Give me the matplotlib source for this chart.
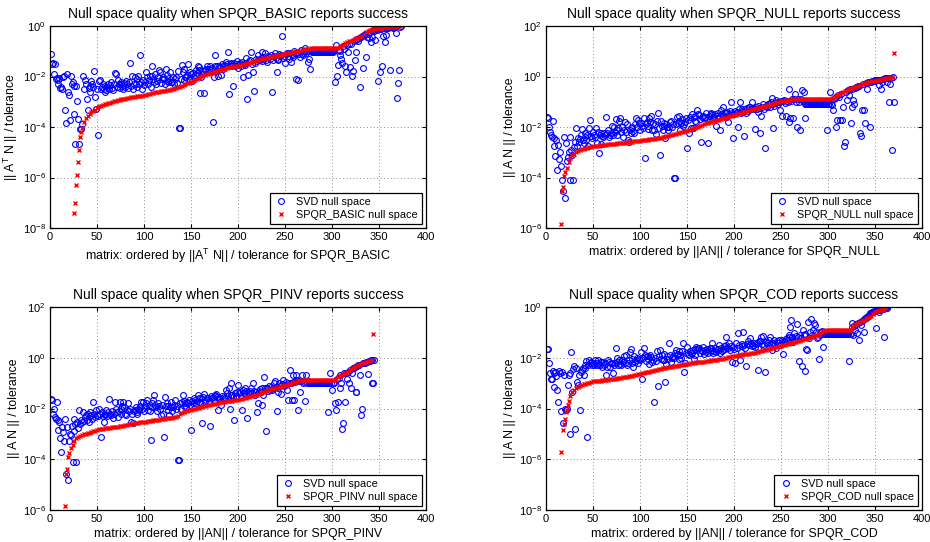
import numpy as np
import matplotlib
matplotlib.use('Agg')
import matplotlib.pyplot as plt

plt.rcParams['font.family'] = 'Liberation Sans'
plt.rcParams['mathtext.fontset'] = 'custom'
plt.rcParams['mathtext.rm'] = 'Liberation Sans'
plt.rcParams['mathtext.it'] = 'Liberation Sans:italic'
plt.rcParams['axes.unicode_minus'] = False

# all values are log10( ||A N|| / tolerance ), one SVD value per matrix (index 1..N)
# SPQR values: a few single points + a dense run sampled every 2nd matrix

# ---- SPQR_BASIC ----
basic_svd = [
    -1.1, -1.5, -1.45, -1.9, -1.5, -2.1, -2.07, -2.15, -2.3, -2.05,
    -2.45, -2.4, -2.5, -2.0, -1.96, -3.34, -3.84, -1.9, -2.62, -2.75,
    -3.74, -1.97, -2.29, -2.22, -2.36, -3.5, -4.66, -2.36, -2.95, -3.67,
    -4.66, -4.07, -4.07, -3.87, -1.96, -2.5, -2.15, -2.29, -2.89, -3.34,
    -2.45, -2.36, -2.6, -2.16, -2.29, -2.4, -1.8, -2.82, -3.28, -2.5,
    -4.33, -2.16, -2.13, -2.49, -2.4, -2.3, -2.49, -2.36, -2.6, -2.55,
    -2.42, -2.29, -2.5, -2.35, -2.22, -2.45, -2.55, -2.3, -1.86, -1.92,
    -2.4, -2.13, -2.3, -2.45, -2.29, -2.2, -2.36, -2.5, -2.25, -2.4,
    -2.16, -2.3, -2.45, -2.2, -1.46, -2.36, -1.96, -2.5, -2.3, -2.03,
    -2.29, -2.1, -2.4, -1.96, -2.3, -1.14, -2.2, -2.49, -2.13, -2.35,
    -2.2, -1.83, -2.0, -2.3, -2.15, -1.96, -2.4, -1.6, -1.96, -2.1,
    -2.2, -1.9, -2.3, -2.16, -2.0, -1.76, -1.83, -2.25, -2.1, -2.03,
    -2.1, -2.3, -1.7, -1.93, -2.2, -2.16, -2.05, -1.83, -2.2, -2.22,
    -2.0, -2.3, -2.1, -2.03, -2.25, -1.8, -4.04, -4.04, -2.1, -1.54,
    -1.83, -2.15, -1.7, -2.0, -2.03, -1.95, -1.5, -2.1, -1.83, -1.9,
    -2.16, -1.86, -2.0, -1.95, -1.76, -1.85, -1.6, -1.75, -1.63, -2.64,
    -2.0, -1.9, -1.8, -2.64, -1.75, -1.7, -1.57, -1.83, -1.7, -1.57,
    -1.75, -1.65, -3.8, -2.03, -1.6, -1.16, -1.8, -1.6, -1.96, -1.6,
    -1.64, -1.93, -1.5, -1.7, -1.55, -1.6, -1.43, -1.5, -1.04, -2.68,
    -1.5, -1.6, -1.45, -1.55, -2.37, -1.47, -1.6, -1.52, -1.4, -1.67,
    -1.5, -1.45, -1.6, -1.41, -2.0, -1.5, -1.54, -1.45, -1.28, -2.88,
    -1.93, -1.4, -1.35, -1.01, -1.5, -1.84, -2.57, -1.45, -1.3, -1.4,
    -1.14, -1.35, -1.34, -1.25, -1.01, -1.4, -1.24, -1.3, -1.08, -1.35,
    -1.41, -1.2, -1.24, -1.3, -1.15, -2.63, -1.34, -1.2, -1.08, -1.25,
    -1.83, -1.3, -1.34, -1.1, -1.2, -1.15, -0.38, -1.28, -1.2, -1.47,
    -1.1, -1.08, -1.2, -1.32, -1.05, -1.41, -1.1, -1.21, -1.15, -1.0,
    -1.08, -2.1, -1.05, -2.13, -1.12, -1.21, -0.95, -1.1, -1.14, -1.0,
    -0.88, -1.05, -0.98, -1.41, -1.32, -1.0, -1.71, -1.0, -1.01, -1.01,
    -1.01, -1.01, -1.01, -1.01, -1.01, -1.01, -1.01, -1.01, -1.01, -1.01,
    -1.01, -1.01, -1.01, -1.01, -1.01, -1.01, -1.01, -1.01, -1.01, -1.01,
    -1.01, -1.0, -2.2, -0.75, -1.97, -1.54, -0.95, -1.0, -1.14, -1.32,
    -1.47, -0.8, -0.9, -1.58, -1.84, -0.75, -1.01, -0.7, -1.63, -0.7,
    -1.97, -1.8, -0.6, -1.34, -1.01, -0.55, -0.5, -0.6, -0.48, -2.42,
    -0.45, -0.4, -1.67, -0.35, -0.3, -1.21, -0.42, -0.3, -0.49, -0.22,
    -0.62, -0.2, -0.45, -0.15, -0.2, -0.55, -0.12, -0.15, -2.17, -0.1,
    -1.84, -0.1, -1.57, -0.39, -0.08, -0.62, -0.36, -0.07, -0.06, -0.06,
    -0.05, -1.74, -0.05, -0.04, -0.09, -0.04, -0.03, -0.29, -2.86, -2.24,
    -1.74, -0.03, -0.01,
]
basic_extra_x = [27, 29, 31, 33]
basic_extra = [-7.0, -5.9, -4.9, -4.2]
basic_start = 26
basic_spqr = [
    -7.4, -6.3, -5.4, -4.4, -4.05, -3.8, -3.65, -3.55, -3.5, -3.42,
    -3.38, -3.32, -3.25, -3.18, -3.15, -3.12, -3.1, -3.08, -3.05, -3.03,
    -3.0, -2.98, -2.95, -2.94, -2.92, -2.91, -2.9, -2.88, -2.87, -2.85,
    -2.83, -2.82, -2.81, -2.79, -2.78, -2.77, -2.76, -2.74, -2.72, -2.7,
    -2.68, -2.66, -2.65, -2.63, -2.61, -2.6, -2.59, -2.57, -2.56, -2.55,
    -2.54, -2.52, -2.5, -2.48, -2.45, -2.42, -2.4, -2.37, -2.34, -2.3,
    -2.27, -2.24, -2.21, -2.17, -2.13, -2.09, -2.05, -2.01, -1.98, -1.95,
    -1.92, -1.9, -1.88, -1.86, -1.83, -1.8, -1.78, -1.76, -1.73, -1.71,
    -1.69, -1.66, -1.64, -1.62, -1.61, -1.6, -1.58, -1.57, -1.55, -1.53,
    -1.51, -1.49, -1.47, -1.45, -1.43, -1.41, -1.39, -1.36, -1.34, -1.31,
    -1.29, -1.28, -1.26, -1.25, -1.23, -1.22, -1.2, -1.18, -1.17, -1.15,
    -1.13, -1.12, -1.1, -1.08, -1.07, -1.05, -1.04, -1.02, -1.0, -0.99,
    -0.97, -0.95, -0.93, -0.92, -0.91, -0.9, -0.89, -0.89, -0.89, -0.89,
    -0.88, -0.88, -0.88, -0.88, -0.88, -0.88, -0.88, -0.88, -0.88, -0.88,
    -0.87, -0.84, -0.8, -0.74, -0.68, -0.64, -0.61, -0.58, -0.55, -0.52,
    -0.49, -0.46, -0.43, -0.38, -0.31, -0.24, -0.2, -0.17, -0.14, -0.12,
    -0.1, -0.09, -0.08, -0.07, -0.06, -0.05, -0.05, -0.04, -0.04, -0.03,
    -0.03, -0.02, -0.01, 0.0,
]

# ---- SPQR_NULL ----
null_svd = [
    -1.62, -1.65, -2.0, -2.18, -2.3, -2.4, -1.75, -2.45, -2.77, -3.14,
    -2.5, -3.69, -2.71, -3.27, -2.97, -3.56, -4.08, -4.54, -2.38, -4.8,
    -2.64, -3.36, -3.17, -2.97, -4.08, -2.38, -2.9, -3.1, -4.08, -2.8,
    -2.58, -2.05, -2.77, -2.45, -2.6, -2.48, -2.3, -2.09, -2.5, -2.64,
    -2.25, -2.4, -2.51, -2.3, -2.75, -2.05, -1.72, -2.35, -2.45, -2.18,
    -2.3, -2.38, -2.05, -2.64, -2.2, -3.04, -2.31, -2.67, -2.22, -2.35,
    -2.41, -2.25, -2.3, -1.62, -2.25, -2.1, -2.38, -2.3, -2.22, -1.96,
    -2.3, -1.99, -2.2, -1.7, -2.31, -2.1, -2.05, -1.75, -1.66, -2.2,
    -2.0, -2.38, -2.1, -1.8, -2.2, -1.88, -2.51, -2.58, -2.1, -2.25,
    -2.0, -2.05, -2.15, -2.22, -1.9, -1.66, -2.0, -1.72, -1.85, -2.1,
    -1.85, -1.95, -2.05, -1.66, -3.23, -1.9, -1.82, -2.08, -1.95, -1.66,
    -1.8, -1.57, -2.1, -1.85, -2.12, -1.9, -2.27, -1.75, -1.46, -2.05,
    -3.1, -1.75, -1.95, -2.1, -1.85, -1.95, -2.45, -1.9, -2.0, -2.12,
    -1.99, -1.8, -1.75, -2.0, -1.9, -4.02, -4.02, -1.9, -1.62, -1.85,
    -1.56, -1.75, -2.1, -1.85, -1.7, -1.95, -1.9, -1.8, -1.65, -2.84,
    -1.72, -2.25, -1.62, -2.05, -1.48, -2.05, -1.62, -1.75, -1.55, -1.79,
    -1.33, -1.5, -1.53, -1.7, -2.58, -1.6, -1.55, -1.66, -1.6, -1.46,
    -1.7, -2.64, -1.55, -1.73, -1.5, -1.45, -1.52, -1.6, -1.66, -1.5,
    -1.96, -1.55, -1.45, -1.6, -2.12, -1.33, -1.5, -1.2, -1.55, -1.45,
    -1.6, -1.46, -1.4, -1.79, -1.5, -1.35, -1.0, -1.45, -2.44, -1.5,
    -1.35, -1.46, -1.4, -1.99, -1.3, -1.0, -1.45, -1.27, -1.35, -1.4,
    -2.35, -1.3, -1.46, -1.25, -1.35, -1.2, -1.2, -1.3, -1.0, -1.25,
    -1.3, -2.09, -1.2, -1.3, -1.4, -1.15, -1.25, -2.25, -1.55, -1.2,
    -1.1, -1.27, -2.84, -1.15, -1.2, -1.07, -1.1, -1.2, -1.0, -0.84,
    -1.1, -2.05, -1.15, -1.05, -0.94, -1.0, -1.1, -1.0, -1.33, -0.95,
    -1.57, -0.98, -0.94, -1.05, -1.57, -0.95, -1.0, -1.79, -0.48, -1.66,
    -0.95, -0.9, -1.66, -0.9, -0.68, -1.0, -1.99, -0.88, -1.0, -2.12,
    -0.9, -0.52, -0.95, -0.61, -1.66, -1.07, -1.07, -1.07, -1.07, -1.07,
    -1.07, -1.07, -1.07, -1.07, -1.07, -1.07, -1.07, -1.07, -1.07, -1.07,
    -1.07, -1.07, -1.07, -1.07, -1.07, -1.07, -1.07, -1.07, -2.12, -1.07,
    -1.07, -0.61, -1.07, -1.14, -1.33, -0.9, -0.85, -1.99, -0.8, -1.73,
    -0.75, -0.8, -1.73, -0.7, -1.73, -1.2, -2.75, -2.58, -0.6, -0.94,
    -0.55, -0.75, -0.5, -1.83, -0.5, -1.2, -0.94, -1.07, -0.45, -0.42,
    -0.42, -0.38, -0.36, -2.22, -2.35, -1.33, -0.3, -1.33, -1.86, -0.26,
    -0.48, -0.24, -0.22, -0.2, -1.99, -0.2, -0.18, -0.17, -0.16, -0.15,
    -0.15, -0.14, -0.13, -0.35, -0.12, -0.48, -0.22, -0.1, -0.09, -0.08,
    -0.07, -0.06, -0.22, -0.05, -1.0, -0.3, -0.04, -2.9, -0.03, -1.0,
]
null_extra_x = [16, 17, 18, 19, 370]
null_extra = [-5.83, -4.54, -4.39, -3.93, 0.95]
null_start = 20
null_spqr = [
    -3.8, -3.63, -3.4, -3.22, -3.12, -3.05, -2.98, -2.94, -2.91, -2.89,
    -2.87, -2.85, -2.83, -2.81, -2.79, -2.77, -2.76, -2.75, -2.74, -2.73,
    -2.72, -2.71, -2.7, -2.69, -2.68, -2.67, -2.66, -2.66, -2.65, -2.64,
    -2.63, -2.63, -2.62, -2.61, -2.6, -2.59, -2.58, -2.57, -2.56, -2.55,
    -2.54, -2.53, -2.52, -2.51, -2.5, -2.49, -2.48, -2.47, -2.46, -2.45,
    -2.43, -2.42, -2.4, -2.39, -2.37, -2.35, -2.33, -2.31, -2.29, -2.26,
    -2.24, -2.22, -2.2, -2.18, -2.16, -2.14, -2.12, -2.09, -2.06, -2.03,
    -2.01, -1.99, -1.96, -1.92, -1.89, -1.86, -1.84, -1.82, -1.79, -1.77,
    -1.75, -1.73, -1.71, -1.68, -1.66, -1.65, -1.63, -1.61, -1.58, -1.55,
    -1.53, -1.51, -1.49, -1.46, -1.44, -1.41, -1.39, -1.37, -1.34, -1.32,
    -1.3, -1.28, -1.26, -1.24, -1.22, -1.2, -1.18, -1.15, -1.13, -1.11,
    -1.09, -1.07, -1.05, -1.02, -1.0, -0.98, -0.97, -0.95, -0.94, -0.93,
    -0.92, -0.91, -0.91, -0.9, -0.89, -0.88, -0.88, -0.88, -0.88, -0.88,
    -0.88, -0.88, -0.88, -0.88, -0.88, -0.88, -0.88, -0.88, -0.88, -0.88,
    -0.88, -0.88, -0.86, -0.82, -0.78, -0.75, -0.7, -0.65, -0.6, -0.56,
    -0.52, -0.49, -0.47, -0.45, -0.43, -0.4, -0.38, -0.34, -0.3, -0.27,
    -0.24, -0.22, -0.2, -0.18, -0.17, -0.16, -0.14, -0.13, -0.12, -0.1,
    -0.08, -0.06, -0.05, -0.04, -0.03,
]

# ---- SPQR_PINV ----
pinv_svd = [
    -1.63, -1.65, -2.2, -2.0, -2.35, -2.4, -1.76, -2.45, -2.83, -2.53,
    -3.16, -3.7, -2.72, -2.92, -3.29, -2.4, -4.6, -2.72, -4.8, -3.3,
    -3.0, -3.05, -2.7, -4.1, -2.4, -2.9, -2.6, -4.1, -2.53, -2.75,
    -2.07, -2.6, -2.46, -2.55, -2.13, -2.5, -2.35, -2.26, -2.45, -2.2,
    -2.53, -2.13, -2.3, -2.26, -2.4, -1.74, -2.2, -2.35, -2.07, -2.26,
    -2.3, -2.0, -2.2, -3.12, -2.13, -2.3, -2.53, -2.2, -2.26, -2.07,
    -2.3, -2.15, -1.63, -2.2, -2.26, -2.1, -2.37, -2.2, -1.74, -2.0,
    -2.15, -2.33, -2.1, -1.74, -2.2, -2.0, -1.9, -1.76, -1.95, -2.2,
    -2.26, -2.05, -1.8, -2.1, -2.0, -2.53, -2.2, -2.59, -2.1, -2.07,
    -1.95, -2.13, -2.2, -2.0, -2.07, -1.9, -1.74, -2.0, -1.74, -2.1,
    -1.95, -1.8, -1.68, -2.05, -1.9, -2.1, -3.25, -1.8, -1.95, -1.68,
    -1.47, -1.85, -1.95, -2.1, -1.8, -1.9, -2.0, -2.26, -1.85, -2.2,
    -3.14, -1.55, -1.9, -1.8, -2.05, -1.9, -2.26, -1.95, -1.75, -2.1,
    -1.95, -1.85, -1.68, -2.0, -1.9, -4.04, -4.04, -1.8, -2.0, -1.75,
    -1.45, -1.9, -1.7, -1.8, -1.95, -1.75, -1.77, -1.65, -1.85, -2.86,
    -1.7, -1.77, -1.6, -1.65, -1.8, -1.7, -1.45, -1.6, -1.75, -1.8,
    -1.6, -2.59, -1.55, -1.42, -1.7, -1.65, -1.6, -1.57, -1.75, -2.68,
    -1.5, -1.6, -1.55, -1.7, -1.45, -1.5, -1.42, -1.55, -2.07, -1.6,
    -1.6, -1.85, -1.5, -1.62, -1.55, -1.6, -1.28, -1.4, -1.5, -1.21,
    -2.0, -1.45, -1.01, -1.47, -1.55, -2.46, -1.4, -1.5, -1.35, -1.08,
    -1.4, -1.34, -1.5, -2.04, -1.28, -1.4, -1.21, -1.45, -1.3, -2.37,
    -1.35, -1.41, -1.3, -1.21, -1.4, -1.01, -1.3, -1.47, -1.35, -2.13,
    -1.8, -1.3, -1.25, -1.35, -1.87, -1.2, -1.47, -0.75, -1.2, -2.88,
    -1.18, -1.3, -1.1, -1.28, -1.15, -1.28, -1.2, -1.0, -0.92, -1.15,
    -2.11, -1.21, -1.34, -1.01, -1.1, -1.41, -1.05, -0.88, -1.1, -1.08,
    -0.95, -1.28, -1.67, -1.0, -0.49, -1.0, -1.67, -0.95, -0.68, -1.67,
    -0.95, -0.68, -0.88, -2.07, -0.9, -1.34, -0.92, -0.68, -1.0, -0.95,
    -1.71, -0.68, -1.0, -0.9, -1.01, -1.01, -1.01, -1.01, -1.01, -1.01,
    -1.01, -1.01, -1.01, -1.01, -1.01, -1.01, -1.01, -1.01, -1.01, -1.01,
    -1.01, -1.01, -1.01, -1.01, -1.01, -2.13, -1.01, -0.62, -1.01, -1.28,
    -1.01, -1.01, -1.8, -2.07, -0.85, -1.76, -0.78, -0.68, -1.2, -1.01,
    -2.79, -2.57, -0.62, -1.74, -0.6, -0.82, -0.55, -1.01, -0.5, -1.2,
    -0.6, -0.42, -0.4, -0.38, -1.34, -1.34, -0.32, -0.3, -0.27, -0.68,
    -2.26, -2.0, -0.22, -0.2, -0.19, -0.18, -0.16, -0.66, -0.14, -0.12,
    -0.1, -0.09, -1.01, -1.01, -0.08,
]
pinv_extra_x = [16, 17, 18, 19, 344]
pinv_extra = [-5.86, -4.6, -4.4, -3.93, 0.93]
pinv_start = 20
pinv_spqr = [
    -3.75, -3.55, -3.42, -3.3, -3.18, -3.12, -3.07, -3.04, -3.01, -2.99,
    -2.97, -2.95, -2.93, -2.9, -2.87, -2.85, -2.82, -2.81, -2.79, -2.78,
    -2.77, -2.76, -2.75, -2.74, -2.73, -2.72, -2.71, -2.7, -2.69, -2.67,
    -2.66, -2.65, -2.63, -2.62, -2.6, -2.59, -2.58, -2.56, -2.55, -2.54,
    -2.53, -2.52, -2.51, -2.49, -2.48, -2.47, -2.46, -2.45, -2.44, -2.43,
    -2.42, -2.4, -2.39, -2.38, -2.37, -2.36, -2.34, -2.33, -2.28, -2.22,
    -2.17, -2.13, -2.11, -2.09, -2.07, -2.05, -2.03, -2.01, -1.99, -1.98,
    -1.96, -1.94, -1.92, -1.9, -1.88, -1.86, -1.84, -1.82, -1.81, -1.79,
    -1.77, -1.76, -1.75, -1.73, -1.72, -1.71, -1.7, -1.69, -1.68, -1.67,
    -1.66, -1.64, -1.62, -1.6, -1.58, -1.56, -1.54, -1.52, -1.5, -1.47,
    -1.45, -1.42, -1.39, -1.36, -1.33, -1.3, -1.27, -1.25, -1.22, -1.2,
    -1.18, -1.16, -1.14, -1.12, -1.1, -1.08, -1.06, -1.04, -1.02, -1.0,
    -0.97, -0.95, -0.93, -0.91, -0.89, -0.88, -0.88, -0.88, -0.88, -0.88,
    -0.88, -0.88, -0.88, -0.88, -0.88, -0.88, -0.88, -0.88, -0.88, -0.88,
    -0.88, -0.86, -0.82, -0.77, -0.72, -0.68, -0.65, -0.62, -0.57, -0.51,
    -0.45, -0.4, -0.36, -0.31, -0.27, -0.24, -0.21, -0.19, -0.17, -0.14,
    -0.11, -0.09,
]

# ---- SPQR_COD ----
cod_svd = [
    -1.66, -1.66, -2.2, -2.6, -2.84, -2.84, -2.53, -2.6, -3.14, -2.55,
    -2.7, -3.28, -3.74, -2.53, -2.6, -4.1, -2.55, -4.59, -2.68, -4.0,
    -4.07, -4.0, -3.08, -2.68, -5.01, -2.62, -1.76, -3.34, -2.45, -2.32,
    -4.82, -2.42, -2.95, -3.08, -2.68, -4.07, -2.55, -2.5, -2.42, -2.68,
    -2.29, -2.4, -2.13, -5.12, -2.29, -2.09, -2.22, -2.16, -2.3, -2.22,
    -2.3, -2.09, -2.2, -2.3, -2.09, -2.25, -2.29, -2.15, -2.16, -2.35,
    -2.16, -2.27, -2.2, -2.68, -2.36, -2.1, -2.16, -2.38, -2.2, -2.19,
    -2.62, -2.3, -2.19, -1.61, -2.0, -2.15, -2.3, -2.09, -2.25, -2.29,
    -2.1, -2.16, -1.95, -2.2, -1.88, -2.3, -2.22, -2.1, -1.76, -1.66,
    -2.2, -2.03, -2.36, -1.92, -2.15, -2.09, -2.0, -2.22, -2.03, -2.1,
    -1.76, -2.84, -2.0, -1.61, -1.9, -2.13, -1.95, -1.92, -2.05, -2.26,
    -1.9, -1.96, -2.15, -2.09, -3.76, -2.0, -2.13, -1.74, -3.1, -1.95,
    -1.7, -2.03, -1.9, -2.09, -2.09, -1.85, -2.97, -2.26, -1.95, -2.03,
    -1.43, -1.9, -2.16, -2.0, -1.92, -2.0, -1.8, -1.7, -1.9, -1.85,
    -2.05, -1.75, -1.9, -2.0, -1.75, -1.41, -2.55, -2.22, -1.8, -1.57,
    -1.85, -1.9, -1.75, -1.8, -1.8, -1.7, -2.03, -1.9, -1.64, -1.57,
    -1.7, -1.6, -1.63, -1.8, -1.7, -1.75, -1.57, -1.85, -1.7, -1.76,
    -1.65, -1.8, -1.7, -1.63, -1.75, -1.6, -1.43, -1.8, -1.73, -1.6,
    -1.78, -1.7, -1.65, -1.5, -1.8, -1.6, -1.72, -1.7, -1.55, -1.65,
    -1.5, -1.17, -1.57, -1.6, -1.43, -1.7, -1.55, -2.18, -1.57, -1.65,
    -2.22, -1.43, -1.6, -1.04, -1.5, -2.09, -1.76, -1.45, -1.55, -0.97,
    -1.5, -1.6, -2.32, -1.45, -1.35, -1.5, -1.24, -1.43, -1.55, -1.5,
    -1.4, -1.57, -1.45, -1.43, -1.6, -2.49, -1.35, -1.34, -1.17, -1.45,
    -1.13, -1.5, -2.58, -1.37, -1.4, -1.5, -1.3, -1.17, -1.45, -1.7,
    -1.4, -1.43, -1.3, -1.45, -1.63, -1.35, -1.4, -1.3, -1.5, -1.45,
    -1.3, -1.87, -1.35, -1.37, -1.25, -1.24, -1.3, -1.1, -1.2, -0.78,
    -0.51, -1.2, -1.37, -1.04, -1.3, -1.15, -0.68, -1.2, -2.13, -1.1,
    -1.24, -2.32, -0.91, -1.1, -1.05, -2.53, -1.66, -1.7, -0.58, -1.21,
    -1.0, -0.47, -1.1, -0.9, -0.64, -0.7, -1.0, -1.24, -1.2, -2.03,
    -1.1, -1.0, -1.0, -0.95, -1.57, -1.05, -1.04, -1.08, -1.08, -1.08,
    -1.08, -1.08, -1.08, -1.08, -1.08, -1.08, -1.08, -1.08, -1.08, -1.08,
    -1.08, -1.08, -1.08, -1.08, -1.08, -1.08, -1.08, -1.08, -1.08, -1.08,
    -1.08, -2.13, -1.08, -1.08, -0.8, -0.64, -1.1, -0.75, -0.9, -0.68,
    -1.04, -0.65, -1.3, -0.6, -0.72, -0.55, -0.5, -0.97, -0.45, -0.42,
    -0.4, -0.38, -0.35, -0.3, -0.25, -0.22, -0.2, -0.18, -0.16, -0.14,
    -0.82, -0.12, -0.11, -0.18, -0.1, -0.09, -0.08, -0.07, -0.06, -1.17,
    -0.05, -0.04, -0.03,
]
cod_extra_x = [16, 19, 21, 23]
cod_extra = [-5.71, -4.63, -4.13, -3.85]
cod_start = 18
cod_spqr = [
    -4.86, -4.42, -4.07, -3.7, -3.5, -3.36, -3.26, -3.19, -3.14, -3.1,
    -3.07, -3.05, -3.02, -3.0, -2.98, -2.95, -2.93, -2.92, -2.91, -2.9,
    -2.9, -2.89, -2.88, -2.87, -2.86, -2.85, -2.84, -2.83, -2.82, -2.8,
    -2.79, -2.78, -2.77, -2.75, -2.74, -2.73, -2.72, -2.7, -2.69, -2.68,
    -2.66, -2.64, -2.62, -2.6, -2.58, -2.56, -2.55, -2.53, -2.51, -2.49,
    -2.47, -2.45, -2.43, -2.42, -2.41, -2.39, -2.38, -2.36, -2.35, -2.33,
    -2.32, -2.31, -2.3, -2.28, -2.27, -2.25, -2.24, -2.23, -2.22, -2.21,
    -2.2, -2.18, -2.17, -2.16, -2.16, -2.15, -2.14, -2.13, -2.11, -2.1,
    -2.09, -2.08, -2.07, -2.06, -2.04, -2.03, -2.01, -2.0, -1.98, -1.97,
    -1.95, -1.94, -1.92, -1.91, -1.89, -1.88, -1.87, -1.86, -1.85, -1.84,
    -1.83, -1.81, -1.8, -1.79, -1.77, -1.75, -1.73, -1.71, -1.69, -1.67,
    -1.65, -1.63, -1.61, -1.59, -1.57, -1.55, -1.53, -1.51, -1.49, -1.47,
    -1.45, -1.43, -1.41, -1.39, -1.37, -1.35, -1.33, -1.3, -1.28, -1.26,
    -1.23, -1.21, -1.18, -1.16, -1.13, -1.1, -1.06, -1.02, -0.98, -0.94,
    -0.92, -0.91, -0.91, -0.91, -0.91, -0.91, -0.91, -0.91, -0.91, -0.91,
    -0.91, -0.91, -0.91, -0.91, -0.78, -0.7, -0.66, -0.62, -0.59, -0.56,
    -0.52, -0.48, -0.45, -0.4, -0.34, -0.27, -0.2, -0.16, -0.13, -0.11,
    -0.1, -0.08, -0.05,
]

panels = [
    ('SPQR_BASIC', basic_svd, basic_extra_x, basic_extra, basic_start, basic_spqr, (1e-8, 1e0), True),
    ('SPQR_NULL', null_svd, null_extra_x, null_extra, null_start, null_spqr, (1e-6, 1e2), False),
    ('SPQR_PINV', pinv_svd, pinv_extra_x, pinv_extra, pinv_start, pinv_spqr, (1e-6, 1e2), False),
    ('SPQR_COD', cod_svd, cod_extra_x, cod_extra, cod_start, cod_spqr, (1e-8, 1e0), False),
]
boxes = [
    [0.0538, 0.5793, 0.4043, 0.3727],
    [0.5871, 0.5793, 0.4043, 0.3727],
    [0.0538, 0.0590, 0.4043, 0.3746],
    [0.5871, 0.0590, 0.4043, 0.3746],
]

fig = plt.figure(figsize=(9.3, 5.42), dpi=100)

for box, (name, svd, ex_x, ex, start, spqr, ylim, transp) in zip(boxes, panels):
    ax = fig.add_axes(box)
    xs = np.arange(1, len(svd) + 1)
    ax.plot(xs, 10.0 ** np.array(svd), 'o', mfc='none', mec='b', ms=4.2, mew=0.8,
            label='SVD null space')
    rx = list(ex_x) + list(range(start, start + 2 * len(spqr), 2))
    ry = list(ex) + list(spqr)
    ax.plot(rx, 10.0 ** np.array(ry), 'x', color='r', ms=3.2, mew=1.0,
            label=name + ' null space')

    ax.set_yscale('log')
    ax.set_xlim(0, 400)
    ax.set_ylim(*ylim)
    lo, hi = int(np.log10(ylim[0])), int(np.log10(ylim[1]))
    ax.set_yticks([10.0 ** k for k in range(lo, hi + 1, 2)])
    ax.yaxis.set_minor_locator(matplotlib.ticker.NullLocator())
    ax.set_xticks(range(0, 401, 50))
    ax.tick_params(direction='in', length=3, labelsize=8, top=True, right=True, pad=3)
    ax.grid(True, color='0.55', linewidth=0.7, dashes=(1, 2.5))
    for s in ax.spines.values():
        s.set_linewidth(0.9)

    ax.set_title('Null space quality when %s reports success' % name, fontsize=10, pad=6)
    if transp:
        ax.set_ylabel(r'|| A$^{\rm T}$ N || / tolerance', fontsize=8.8, labelpad=2)
        ax.set_xlabel(r'matrix: ordered by ||A$^{\rm T}$ N|| / tolerance for ' + name,
                      fontsize=8.9, labelpad=3)
    else:
        ax.set_ylabel('|| A N || / tolerance', fontsize=8.8, labelpad=2)
        ax.set_xlabel('matrix: ordered by ||AN|| / tolerance for ' + name, fontsize=8.9, labelpad=3)

    leg = ax.legend(loc='lower right', fontsize=7.8, fancybox=False, framealpha=1,
                    edgecolor='k', handlelength=1.4, handletextpad=0.7,
                    borderpad=0.35, labelspacing=0.25, borderaxespad=0.4)
    leg.get_frame().set_linewidth(0.9)

fig.savefig('out.png', dpi=100)
